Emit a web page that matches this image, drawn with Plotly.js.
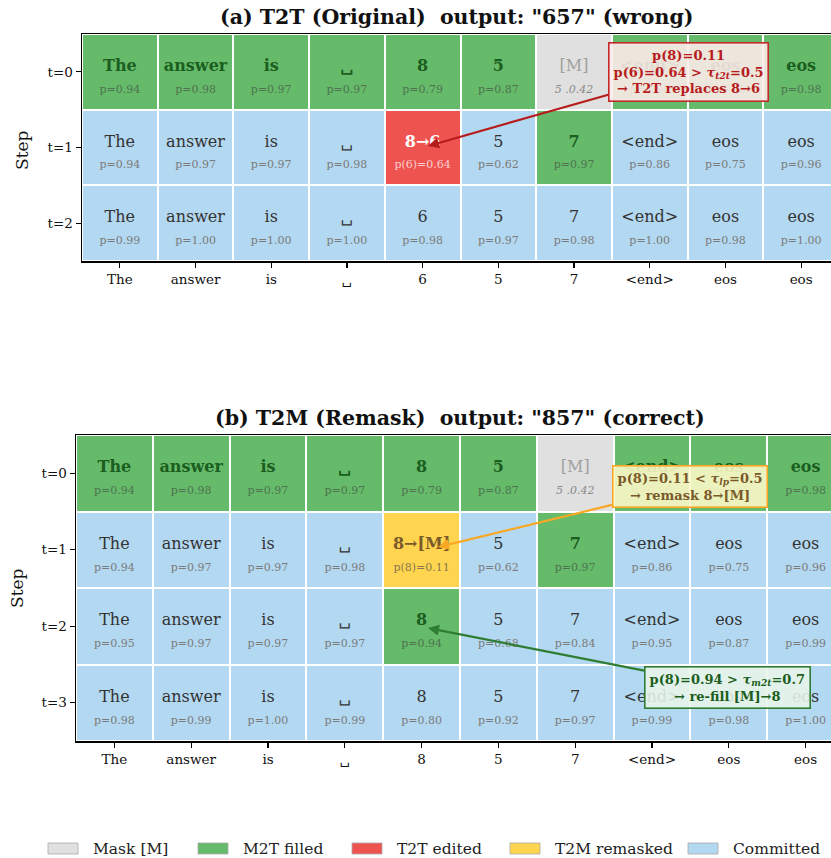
<!DOCTYPE html>
<html>
<head>
<meta charset="utf-8">
<script src="https://cdn.plot.ly/plotly-3.0.1.min.js"></script>
<style>html,body{margin:0;padding:0;background:#fff;}#chart{width:831px;height:858px;}</style>
</head>
<body>
<div id="chart"></div>
<script>
// ---------------- data ----------------
var stepsA = ["t=0", "t=1", "t=2"];
var stepsB = ["t=0", "t=1", "t=2", "t=3"];
var xLabelsA = ["The", "answer", "is", "␣", "6", "5", "7", "<end>", "eos", "eos"];
var xLabelsB = ["The", "answer", "is", "␣", "8", "5", "7", "<end>", "eos", "eos"];

// states: 0 = Mask [M], 1 = M2T filled, 2 = T2T edited, 3 = T2M remasked, 4 = Committed
var tokensA = [
  ["The", "answer", "is", "␣", "8", "5", "[M]", "<end>", "eos", "eos"],
  ["The", "answer", "is", "␣", "8→6", "5", "7", "<end>", "eos", "eos"],
  ["The", "answer", "is", "␣", "6", "5", "7", "<end>", "eos", "eos"]
];
var probsA = [
  ["p=0.94", "p=0.98", "p=0.97", "p=0.97", "p=0.79", "p=0.87", "5 .0.42", "p=0.96", "p=0.95", "p=0.98"],
  ["p=0.94", "p=0.97", "p=0.97", "p=0.98", "p(6)=0.64", "p=0.62", "p=0.97", "p=0.86", "p=0.75", "p=0.96"],
  ["p=0.99", "p=1.00", "p=1.00", "p=1.00", "p=0.98", "p=0.97", "p=0.98", "p=1.00", "p=0.98", "p=1.00"]
];
var statesA = [
  [1, 1, 1, 1, 1, 1, 0, 1, 1, 1],
  [4, 4, 4, 4, 2, 4, 1, 4, 4, 4],
  [4, 4, 4, 4, 4, 4, 4, 4, 4, 4]
];

var tokensB = [
  ["The", "answer", "is", "␣", "8", "5", "[M]", "<end>", "eos", "eos"],
  ["The", "answer", "is", "␣", "8→[M]", "5", "7", "<end>", "eos", "eos"],
  ["The", "answer", "is", "␣", "8", "5", "7", "<end>", "eos", "eos"],
  ["The", "answer", "is", "␣", "8", "5", "7", "<end>", "eos", "eos"]
];
var probsB = [
  ["p=0.94", "p=0.98", "p=0.97", "p=0.97", "p=0.79", "p=0.87", "5 .0.42", "p=0.96", "p=0.95", "p=0.98"],
  ["p=0.94", "p=0.97", "p=0.97", "p=0.98", "p(8)=0.11", "p=0.62", "p=0.97", "p=0.86", "p=0.75", "p=0.96"],
  ["p=0.95", "p=0.97", "p=0.97", "p=0.97", "p=0.94", "p=0.68", "p=0.84", "p=0.95", "p=0.87", "p=0.99"],
  ["p=0.98", "p=0.99", "p=1.00", "p=0.99", "p=0.80", "p=0.92", "p=0.97", "p=0.99", "p=0.98", "p=1.00"]
];
var statesB = [
  [1, 1, 1, 1, 1, 1, 0, 1, 1, 1],
  [4, 4, 4, 4, 3, 4, 1, 4, 4, 4],
  [4, 4, 4, 4, 1, 4, 4, 4, 4, 4],
  [4, 4, 4, 4, 4, 4, 4, 4, 4, 4]
];

var legendNames = ["Mask [M]", "M2T filled", "T2T edited", "T2M remasked", "Committed"];
var stateColors = ["#e0e0e0", "#66bb6a", "#ef5350", "#ffd54f", "#b3d8f1"];

var titleA = '(a) T2T (Original)\u00a0\u00a0output: "657" (wrong)';
var titleB = '(b) T2M (Remask)\u00a0\u00a0output: "857" (correct)';

// ---------------- styles ----------------
var FONT = "DejaVu Serif, Liberation Serif, serif";
var tokColor = ["#a0a0a0", "#1b5e20", "#ffffff", "#7a5a2a", "#333333"];
var probColor = ["#8a8a8a", "#4d7350", "rgba(255,255,255,0.72)", "#8a7550", "#7b7b7b"];
var boldState = [false, true, true, true, false];

function esc(s) { return s.replace(/</g, "&lt;").replace(/>/g, "&gt;"); }

function colorscale() {
  var cs = [], n = stateColors.length;
  for (var i = 0; i < n; i++) {
    cs.push([i / n, stateColors[i]]);
    cs.push([(i + 1) / n, stateColors[i]]);
  }
  return cs;
}

function panelTraces(tokens, probs, states, xa, ya) {
  var nR = tokens.length, nC = tokens[0].length;
  var heat = {
    type: "heatmap", z: states, x: tokens[0].map(function (_, i) { return i; }),
    y: tokens.map(function (_, i) { return i; }),
    zmin: -0.5, zmax: 4.5, colorscale: colorscale(), showscale: false,
    xgap: 2, ygap: 2, hoverinfo: "skip", xaxis: xa, yaxis: ya
  };
  var tx = [], ty = [], tt = [], tc = [], px = [], py = [], pt = [], pc = [];
  for (var r = 0; r < nR; r++) {
    for (var c = 0; c < nC; c++) {
      var s = states[r][c];
      tx.push(c); ty.push(r - 0.065);
      var t = esc(tokens[r][c]);
      tt.push(boldState[s] ? "<b>" + t + "</b>" : t);
      tc.push(tokColor[s]);
      px.push(c); py.push(r + 0.24);
      var p = esc(probs[r][c]);
      pt.push(s === 0 ? "<i>" + p + "</i>" : p);
      pc.push(probColor[s]);
    }
  }
  var tokTrace = {
    type: "scatter", mode: "text", x: tx, y: ty, text: tt, textposition: "middle center",
    textfont: { family: FONT, size: 16, color: tc }, hoverinfo: "skip", showlegend: false,
    xaxis: xa, yaxis: ya, cliponaxis: true
  };
  var probTrace = {
    type: "scatter", mode: "text", x: px, y: py, text: pt, textposition: "middle center",
    textfont: { family: FONT, size: 11, color: pc }, hoverinfo: "skip", showlegend: false,
    xaxis: xa, yaxis: ya, cliponaxis: true
  };
  return [heat, tokTrace, probTrace];
}

var W = 831, H = 858;
function PX(x) { return x / W; }
function PY(y) { return 1 - y / H; }

// panel geometry (pixels)
var A = { left: 82, top: 34, bottom: 261, cw: 75.7 };
var B = { left: 76, top: 435, bottom: 741, cw: 76.8 };

var traces = [].concat(
  panelTraces(tokensA, probsA, statesA, "x", "y"),
  panelTraces(tokensB, probsB, statesB, "x2", "y2")
);

function xaxisDef(p, labels, anchor) {
  return {
    domain: [PX(p.left), 1], anchor: anchor,
    range: [-0.5, -0.5 + (W - p.left) / p.cw],
    tickvals: labels.map(function (_, i) { return i; }),
    ticktext: labels.map(esc),
    ticks: "outside", ticklen: 5, tickwidth: 1.2, tickcolor: "#000",
    showline: true, linecolor: "#000", linewidth: 1.5, mirror: true,
    showgrid: false, zeroline: false, fixedrange: true,
    tickfont: { family: FONT, size: 13.5, color: "#111" }
  };
}
function yaxisDef(p, steps, anchor) {
  return {
    domain: [PY(p.bottom), PY(p.top)], anchor: anchor,
    range: [steps.length - 0.5, -0.5],
    tickvals: steps.map(function (_, i) { return i; }),
    ticktext: steps,
    ticks: "outside", ticklen: 5, tickwidth: 1.2, tickcolor: "#000",
    showline: true, linecolor: "#000", linewidth: 1.5, mirror: false,
    showgrid: false, zeroline: false, fixedrange: true,
    tickfont: { family: FONT, size: 13.5, color: "#111" }
  };
}

// helpers to place annotation boxes by pixel
function dxA(px) { return (px - A.left) / A.cw - 0.5; }
function dyA(py) { return (py - A.top) / ((A.bottom - A.top) / stepsA.length) - 0.5; }
function dxB(px) { return (px - B.left) / B.cw - 0.5; }
function dyB(py) { return (py - B.top) / ((B.bottom - B.top) / stepsB.length) - 0.5; }

var annotations = [
  { text: "<b>" + titleA + "</b>", xref: "paper", yref: "paper", x: PX(456), y: PY(17),
    xanchor: "center", yanchor: "middle",
    showarrow: false, font: { family: FONT, size: 20.5, color: "#111" } },
  { text: "<b>" + titleB + "</b>", xref: "paper", yref: "paper", x: PX(460), y: PY(418),
    xanchor: "center", yanchor: "middle",
    showarrow: false, font: { family: FONT, size: 20.5, color: "#111" } },
  { text: "Step", xref: "paper", yref: "paper", x: PX(22), y: PY(150), textangle: -90,
    xanchor: "center", yanchor: "middle",
    showarrow: false, font: { family: FONT, size: 17, color: "#111" } },
  { text: "Step", xref: "paper", yref: "paper", x: PX(17), y: PY(588), textangle: -90,
    xanchor: "center", yanchor: "middle",
    showarrow: false, font: { family: FONT, size: 17, color: "#111" } },
  // (a) T2T annotation
  { text: "<b>p(8)=0.11<br>p(6)=0.64 &gt; <i>τ</i><sub><i>t2t</i></sub>=0.5<br>→ T2T replaces 8→6</b>",
    xref: "x", yref: "y", axref: "x", ayref: "y",
    x: dxA(428), y: dyA(146), ax: dxA(688), ay: dyA(72),
    showarrow: true, arrowhead: 2, arrowsize: 1, arrowwidth: 2.2, arrowcolor: "#b71c1c",
    font: { family: FONT, size: 13, color: "#b71c1c" },
    bgcolor: "rgba(255,236,236,0.88)", bordercolor: "#c62828", borderwidth: 1.6, borderpad: 4 },
  // (b) T2M remask annotation
  { text: "<b>p(8)=0.11 &lt; <i>τ</i><sub><i>lp</i></sub>=0.5<br>→ remask 8→[M]</b>",
    xref: "x2", yref: "y2", axref: "x2", ayref: "y2",
    x: dxB(438), y: dyB(547), ax: dxB(690), ay: dyB(486),
    showarrow: true, arrowhead: 2, arrowsize: 1, arrowwidth: 2.2, arrowcolor: "#f9a825",
    font: { family: FONT, size: 13, color: "#7a5a2a" },
    bgcolor: "rgba(255,249,200,0.88)", bordercolor: "#f9a825", borderwidth: 1.6, borderpad: 4 },
  // (b) re-fill annotation
  { text: "<b>p(8)=0.94 &gt; <i>τ</i><sub><i>m2t</i></sub>=0.7<br>→ re-fill [M]→8</b>",
    xref: "x2", yref: "y2", axref: "x2", ayref: "y2",
    x: dxB(428), y: dyB(628), ax: dxB(727), ay: dyB(687),
    showarrow: true, arrowhead: 2, arrowsize: 1, arrowwidth: 2.2, arrowcolor: "#2e7d32",
    font: { family: FONT, size: 13, color: "#1b5e20" },
    bgcolor: "rgba(232,245,233,0.88)", bordercolor: "#2e7d32", borderwidth: 1.6, borderpad: 4 }
];

// legend (patches + labels)
var legendX = [48, 198, 352, 510, 688];
var shapes = [];
legendNames.forEach(function (name, i) {
  shapes.push({ type: "rect", xref: "paper", yref: "paper",
    x0: PX(legendX[i]), x1: PX(legendX[i] + 30), y0: PY(854), y1: PY(843),
    fillcolor: stateColors[i], line: { color: "#a8a8a8", width: 0.8 } });
  annotations.push({ text: name, xref: "paper", yref: "paper",
    x: PX(legendX[i] + 43), y: PY(848.5), xanchor: "left", yanchor: "middle",
    showarrow: false, font: { family: FONT, size: 15.5, color: "#222" } });
});

var layout = {
  width: W, height: H,
  margin: { l: 0, r: 0, t: 0, b: 0 },
  paper_bgcolor: "#fff", plot_bgcolor: "#fff",
  showlegend: false,
  xaxis: xaxisDef(A, xLabelsA, "y"),
  yaxis: yaxisDef(A, stepsA, "x"),
  xaxis2: xaxisDef(B, xLabelsB, "y2"),
  yaxis2: yaxisDef(B, stepsB, "x2"),
  annotations: annotations,
  shapes: shapes
};

Plotly.newPlot("chart", traces, layout, { displayModeBar: false, staticPlot: true });
</script>
</body>
</html>
